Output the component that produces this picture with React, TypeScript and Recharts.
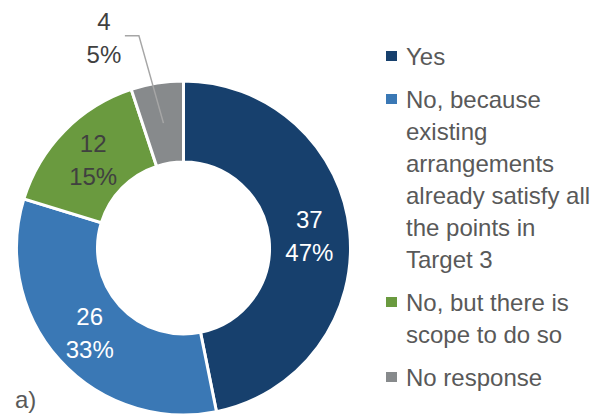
import React from 'react';
import { PieChart, Pie, Cell, Legend } from 'recharts';

const categories = [
  'Yes',
  'No, because existing arrangements already satisfy all the points in Target 3',
  'No, but there is scope to do so',
  'No response',
];
const counts = [37, 26, 12, 4];
const COLORS = ['#17406d', '#3a78b5', '#6a9a3f', '#878a8c'];
const LABEL_COLORS = ['#ffffff', '#ffffff', '#404040', '#404040'];

const FONT = '"Liberation Sans", Arial, Helvetica, sans-serif';
const RAD = Math.PI / 180;

const data = categories.map((name, i) => ({ name, value: counts[i] }));

const polar = (cx: number, cy: number, r: number, angle: number) => ({
  x: cx + r * Math.cos(-angle * RAD),
  y: cy + r * Math.sin(-angle * RAD),
});

const renderLabel = (props: any) => {
  const { cx, cy, midAngle, innerRadius, outerRadius, index, value, percent } = props;
  const pct = `${Math.round(percent * 100)}%`;
  const mid = polar(cx, cy, (innerRadius + outerRadius) / 2, midAngle);

  if (index === 3) {
    // small slice: label sits outside with a leader line
    const elbow = polar(cx, cy, outerRadius + 50, midAngle + 2.75);
    const endX = elbow.x - 14;
    const tx = endX - 21;
    const ty = elbow.y + 2;
    return (
      <g>
        <polyline
          points={`${mid.x},${mid.y} ${elbow.x},${elbow.y} ${endX},${elbow.y}`}
          fill="none"
          stroke="#a6a6a6"
          strokeWidth={1.5}
        />
        <text x={tx} y={ty} textAnchor="middle" fill={LABEL_COLORS[index]} fontSize={24} fontFamily={FONT}>
          <tspan x={tx} dy={-16} dominantBaseline="central">{value}</tspan>
          <tspan x={tx} dy={33} dominantBaseline="central">{pct}</tspan>
        </text>
      </g>
    );
  }

  return (
    <text x={mid.x} y={mid.y} textAnchor="middle" fill={LABEL_COLORS[index]} fontSize={24} fontFamily={FONT}>
      <tspan x={mid.x} dy={-16} dominantBaseline="central">{value}</tspan>
      <tspan x={mid.x} dy={33} dominantBaseline="central">{pct}</tspan>
    </text>
  );
};

const renderLegend = (props: any) => {
  // keep the slice order, recharts sorts the payload by name
  const items = [...(props.payload || [])].sort(
    (a: any, b: any) => categories.indexOf(a.value) - categories.indexOf(b.value)
  );
  return (
    <div style={{ fontFamily: FONT, fontSize: 24, lineHeight: '32px', color: '#595959' }}>
      {items.map((entry: any, i: number) => (
        <div key={`item-${i}`} style={{ display: 'flex', alignItems: 'flex-start', marginBottom: 11 }}>
          <div
            style={{
              width: 11,
              height: 10,
              marginTop: 10,
              marginRight: 9,
              flexShrink: 0,
              backgroundColor: entry.color,
            }}
          />
          <div style={{ width: 194 }}>{entry.value}</div>
        </div>
      ))}
    </div>
  );
};

export default function App() {
  return (
    <div style={{ position: 'absolute', left: 0, top: 0, width: 598, height: 417, background: '#fff' }}>
      <PieChart width={598} height={417} margin={{ top: 0, right: 0, bottom: 0, left: 0 }}>
        <Pie
          data={data}
          dataKey="value"
          nameKey="name"
          cx={183.5}
          cy={248}
          innerRadius={86}
          outerRadius={167}
          startAngle={90}
          endAngle={-270}
          stroke="#ffffff"
          strokeWidth={3}
          label={renderLabel}
          labelLine={false}
          isAnimationActive={false}
        >
          {data.map((entry, i) => (
            <Cell key={`cell-${i}`} fill={COLORS[i]} />
          ))}
        </Pie>
        <Legend
          layout="vertical"
          align="right"
          verticalAlign="top"
          content={renderLegend}
          wrapperStyle={{ position: 'absolute', left: 386, top: 41, width: 214 }}
        />
      </PieChart>
      <div
        style={{
          position: 'absolute',
          left: 15,
          top: 386,
          fontFamily: FONT,
          fontSize: 24,
          lineHeight: '28px',
          color: '#595959',
        }}
      >
        a)
      </div>
    </div>
  );
}
